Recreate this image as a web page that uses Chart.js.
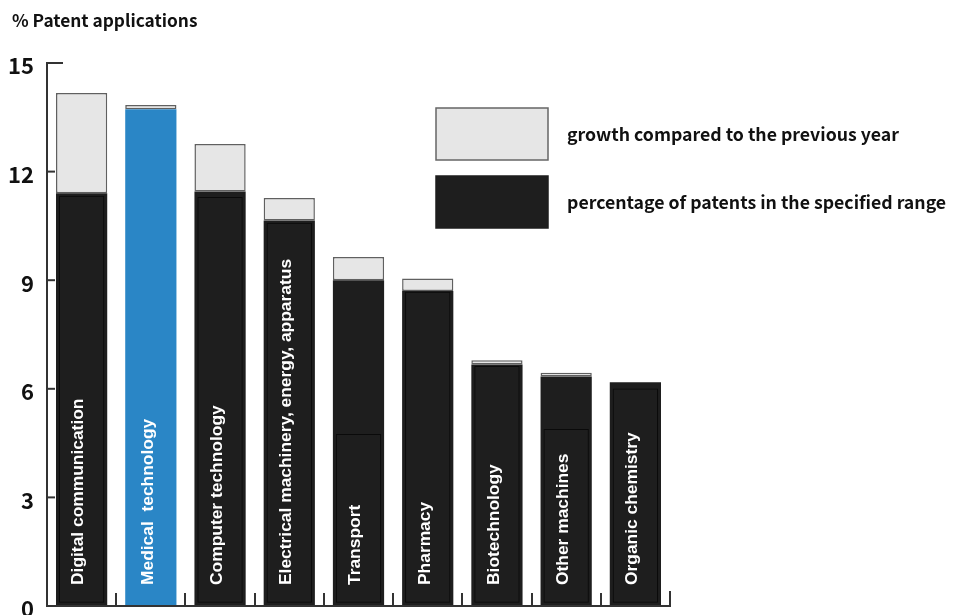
<!DOCTYPE html>
<html><head><meta charset="utf-8">
<script src="https://cdn.jsdelivr.net/npm/chart.js@4.4.1/dist/chart.umd.min.js"></script>
<style>html,body{margin:0;padding:0;background:#fff;overflow:hidden}canvas{display:block}</style>
</head><body>
<canvas id="c" width="963" height="615"></canvas>
<script>
// ---- data ----
const categories = ["Digital communication", "Medical  technology", "Computer technology",
  "Electrical machinery, energy, apparatus", "Transport", "Pharmacy", "Biotechnology",
  "Other machines", "Organic chemistry"];
const shareValues = [11.4, 13.72, 11.45, 10.65, 9.0, 8.7, 6.67, 6.34, 6.18];
const growthValues = [2.77, 0.12, 1.31, 0.62, 0.64, 0.35, 0.12, 0.1, 0];
const innerValues = [11.33, null, 11.3, 10.59, 4.75, 8.68, 6.63, 4.89, 6.01];
const yTickValues = [0, 3, 6, 9, 12, 15];
const yTickLabels = ["0", "3", "6", "9", "12", "15"];
const seriesLabels = ["growth compared to the previous year", "percentage of patents in the specified range"];
const titleText = "% Patent applications";
const highlightIndex = 1;

// ---- styles ----
const FONT = '"Noto Sans CJK JP", "Noto Sans", sans-serif';
const BAR_FONT = '"Liberation Sans", Arial, sans-serif';
const BLACK = '#1e1e1e';
const LIGHT = '#e6e6e6';
const BLUE = '#2a86c6';

const growthData = growthValues.map((g, i) => g > 0 ? [shareValues[i], shareValues[i] + g] : null);
const shareData = shareValues.map(v => [0, v]);
const innerData = innerValues.map(v => v == null ? null : [0.09, v]);

const decorPlugin = {
  id: 'decor',
  afterDatasetsDraw(chart) {
    const ctx = chart.ctx, x = chart.scales.x, y = chart.scales.y, a = chart.chartArea;
    ctx.save();
    // category labels inside bars
    ctx.fillStyle = '#ffffff';
    ctx.font = 'bold 17.4px ' + BAR_FONT;
    ctx.textAlign = 'left';
    ctx.textBaseline = 'middle';
    categories.forEach((c, i) => {
      const cx = x.getPixelForValue(i) - 3;
      ctx.save();
      ctx.translate(cx, y.getPixelForValue(0) - 21);
      ctx.rotate(-Math.PI / 2);
      ctx.fillText(c, 0, 0);
      ctx.restore();
    });
    // axes
    ctx.strokeStyle = '#333';
    ctx.lineWidth = 2;
    const y0 = y.getPixelForValue(0);
    ctx.beginPath();
    ctx.moveTo(a.left, y.getPixelForValue(15) - 1);
    ctx.lineTo(a.left, y0);
    ctx.lineTo(a.right + 1, y0);
    ctx.stroke();
    // y ticks inward
    yTickValues.forEach(v => {
      const py = y.getPixelForValue(v);
      const len = v === 15 ? 16 : 8;
      ctx.beginPath();
      ctx.moveTo(a.left, py);
      ctx.lineTo(a.left + len, py);
      ctx.stroke();
    });
    // x ticks at category boundaries
    const step = (a.right - a.left) / categories.length;
    for (let i = 1; i <= categories.length; i++) {
      const px = Math.round(a.left + step * i);
      ctx.beginPath();
      ctx.moveTo(px, y0);
      ctx.lineTo(px, y0 - (i === categories.length ? 15 : 13));
      ctx.stroke();
    }
    // y labels
    ctx.fillStyle = '#111';
    ctx.font = 'bold 22px ' + FONT;
    ctx.textAlign = 'right';
    ctx.textBaseline = 'middle';
    yTickValues.forEach((v, i) => {
      ctx.fillText(yTickLabels[i], 34, y.getPixelForValue(v) + 3);
    });
    // title
    ctx.font = 'bold 17.3px ' + FONT;
    ctx.textAlign = 'left';
    ctx.fillText(titleText, 12, 20);
    // legend
    const boxes = [{y: 108, fill: LIGHT, stroke: '#666'}, {y: 176, fill: BLACK, stroke: BLACK}];
    ctx.font = 'bold 17.7px ' + FONT;
    boxes.forEach((b, i) => {
      ctx.fillStyle = b.fill;
      ctx.fillRect(436, b.y, 112, 52);
      ctx.strokeStyle = b.stroke;
      ctx.lineWidth = 1.5;
      ctx.strokeRect(436, b.y, 112, 52);
      ctx.fillStyle = '#111';
      ctx.fillText(seriesLabels[i], 567, b.y + 26);
    });
    ctx.restore();
  }
};

new Chart(document.getElementById('c'), {
  type: 'bar',
  data: {
    labels: categories,
    datasets: [
      {
        label: 'inner', data: innerData, order: 0,
        backgroundColor: 'rgba(0,0,0,0)', borderColor: '#0a0a0a', borderWidth: 1, borderSkipped: false,
        barPercentage: 0.655, categoryPercentage: 1, grouped: false
      },
      {
        label: seriesLabels[1], data: shareData, order: 1,
        backgroundColor: categories.map((c, i) => i === highlightIndex ? BLUE : BLACK),
        borderWidth: 0,
        barPercentage: 0.74, categoryPercentage: 1, grouped: false
      },
      {
        label: seriesLabels[0], data: growthData, order: 2,
        backgroundColor: LIGHT, borderColor: '#606060', borderWidth: 1.5, borderSkipped: false,
        barPercentage: 0.74, categoryPercentage: 1, grouped: false
      }
    ]
  },
  options: {
    responsive: false,
    animation: false,
    devicePixelRatio: 1,
    layout: {padding: {left: 47, top: 63, right: 293, bottom: 9}},
    plugins: {legend: {display: false}, tooltip: {enabled: false}, title: {display: false}},
    scales: {
      x: {display: false, offset: true},
      y: {display: false, min: 0, max: 15}
    }
  },
  plugins: [decorPlugin]
});
</script>
</body></html>
